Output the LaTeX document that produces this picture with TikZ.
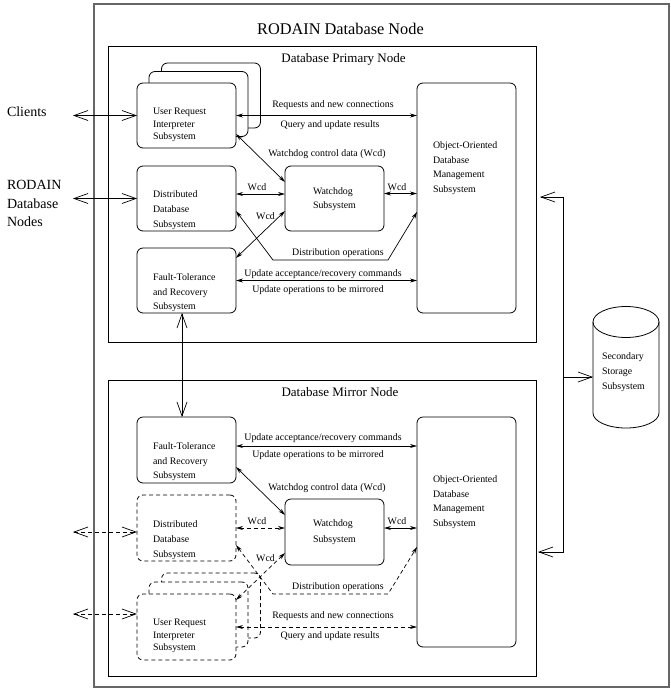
\documentclass[tikz,border=0pt]{standalone}
\usepackage{fontspec}
\setmainfont{Liberation Serif}
\usetikzlibrary{arrows.meta}
\begin{document}
\begin{tikzpicture}[x=1pt,y=-1pt,
  every node/.style={inner sep=0pt, outer sep=0pt},
  box/.style={draw, line width=0.8pt, rounded corners=6pt, fill=white, minimum width=99pt, minimum height=65pt},
  dbox/.style={box, dash pattern=on 4pt off 3pt},
  cont/.style={draw, line width=0.9pt, minimum width=428pt, minimum height=296pt},
  btext/.style={font=\fontsize{9.9}{#1}\selectfont, align=left, anchor=west},
  lab/.style={font=\fontsize{9.9}{12}\selectfont},
  side/.style={font=\fontsize{14}{18.5}\selectfont, align=left, anchor=west},
  ctitle/.style={font=\fontsize{13}{15}\selectfont},
  conn/.style={line width=0.7pt, {Stealth[length=7pt,width=4pt]}-{Stealth[length=7pt,width=4pt]}},
  dconn/.style={conn, dash pattern=on 4pt off 3pt},
  bigconn/.style={line width=0.7pt, {Straight Barb[length=14pt,width=10pt]}-{Straight Barb[length=14pt,width=10pt]}},
  dbigconn/.style={bigconn, dash pattern=on 4pt off 3pt},
  bigend/.style={line width=0.7pt, -{Straight Barb[length=14pt,width=10pt]}}
]
\useasboundingbox (0,0) rectangle (671,689);

% containers
\node[draw=black!60, line width=1.3pt, minimum width=575pt, minimum height=683pt] (outer) at (381.5,345.5) {};
\node[font=\fontsize{16.3}{19}\selectfont] (title) at (340.5,29) {RODAIN Database Node};
\node[cont] (prim) at (322,194) {};
\node[cont] (mirr) at (322,528) {};
\node[ctitle] (primt) at (343.5,59) {Database Primary Node};
\node[ctitle] (mirrt) at (340,392) {Database Mirror Node};

% primary node boxes
\node[box] (uris3) at (211,95.5) {};
\node[box] (uris2) at (198.5,104) {};
\node[box] (uris) at (186.5,115.5) {};
\node[btext=12.3] (turis) at (153,125) {User Request\\Interpreter\\Subsystem};
\node[box] (dds) at (186.5,198.5) {};
\node[btext=15.3] (tdds) at (153,210) {Distributed\\Database\\Subsystem};
\node[box] (ftrs) at (186.5,280.5) {};
\node[btext=14.5] (tftrs) at (153,293) {Fault-Tolerance\\and Recovery\\Subsystem};
\node[box] (wd) at (334.5,198.5) {};
\node[btext=14] (twd) at (313,199) {Watchdog\\Subsystem};
\node[box, minimum height=230pt] (odms) at (466.5,198) {};
\node[btext=14.7] (todms) at (433,168) {Object-Oriented\\Database\\Management\\Subsystem};

% mirror node boxes
\node[box, minimum height=66pt] (mftrs) at (186.5,450) {};
\node[btext=14.5] (tmftrs) at (153,462) {Fault-Tolerance\\and Recovery\\Subsystem};
\node[dbox, minimum height=66pt] (mdds) at (186.5,528) {};
\node[btext=15] (tmdds) at (153,540) {Distributed\\Database\\Subsystem};
\node[box, minimum height=66pt] (mwd) at (334.5,532) {};
\node[btext=16] (tmwd) at (313,532) {Watchdog\\Subsystem};
\node[box, minimum height=230pt] (modms) at (466.5,532) {};
\node[btext=14.7] (tmodms) at (433,502) {Object-Oriented\\Database\\Management\\Subsystem};
\node[dbox] (muris3) at (211,605.5) {};
\node[dbox] (muris2) at (198.5,614.5) {};
\node[dbox, minimum height=66pt] (muris) at (186.5,627) {};
\node[btext=12.5] (tmuris) at (153,636) {User Request\\Interpreter\\Subsystem};

% side labels
\node[side] (clients) at (7,112) {Clients};
\node[side] (rodain) at (7,203.5) {RODAIN\\Database\\Nodes};

% cylinder
\node[minimum width=66pt, minimum height=91pt] (cyl) at (626,367.5) {};
\draw[line width=0.8pt] (cyl.north west) -- (cyl.south west)
  arc[start angle=180, end angle=0, x radius=33, y radius=15] -- (cyl.north east);
\draw[line width=0.8pt] (cyl.north) ellipse[x radius=33, y radius=15.5];
\node[btext=15] (tcyl) at (602,372) {Secondary\\Storage\\Subsystem};

% external connectors (primary)
\coordinate (clL) at (73,115.5);
\coordinate (rdL) at (73,198.5);
\draw[bigconn] (clL) -- (uris.west);
\draw[bigconn] (rdL) -- (dds.west);

% primary connectors
\draw[conn] (uris.east) -- (uris.east -| odms.west);
\node[lab] (l1) at (333,105) {Requests and new connections};
\node[lab] (l2) at (330,125) {Query and update results};
\draw[conn] ([yshift=14]uris.south east) -- ([yshift=-16]wd.north west);
\node[lab] (l3) at (327,154) {Watchdog control data (Wcd)};
\draw[conn] ([yshift=4.5]dds.east) -- ([yshift=4.5]dds.east -| wd.west);
\node[lab] (l4) at (257,187) {Wcd};
\draw[conn] ([yshift=5]wd.east) -- ([yshift=5]wd.east -| odms.west);
\node[lab] (l5) at (397,187) {Wcd};
\draw[conn] ([yshift=20]wd.south west) -- ([yshift=-10]ftrs.north east);
\node[lab] (l6) at (265.5,216) {Wcd};
\draw[conn] ([yshift=20]dds.south east) -- ++(37,49) -- ++(115,0) -- ([yshift=-129]odms.north west);
\node[lab] (l7) at (338,253) {Distribution operations};
\draw[conn] (ftrs.east) -- (ftrs.east -| odms.west);
\node[lab] (l8) at (323,274) {Update acceptance/recovery commands};
\node[lab] (l9) at (318,290) {Update operations to be mirrored};

% primary <-> mirror
\draw[bigconn] ([xshift=-4.5]ftrs.south) -- ([xshift=-4.5]mftrs.north);

% storage bus
\coordinate (busTop) at (563,197);
\coordinate (busBot) at (563,552);
\coordinate (busMid) at (563,377);
\draw[bigconn] ([xshift=4]prim.east |- busTop) -- (busTop) -- (busBot) -- ([xshift=2]mirr.east |- busBot);
\draw[bigend] (busMid) -- (busMid -| cyl.west);

% mirror connectors
\draw[conn] ([yshift=4]mftrs.east) -- ([yshift=4]mftrs.east -| modms.west);
\node[lab] (m1) at (323,438) {Update acceptance/recovery commands};
\node[lab] (m2) at (318,455) {Update operations to be mirrored};
\draw[conn] ([yshift=16]mftrs.south east) -- ([yshift=-16]mwd.north west);
\node[lab] (m3) at (327,488) {Watchdog control data (Wcd)};
\draw[dconn] (mdds.east) -- (mdds.east -| mwd.west);
\node[lab] (m4) at (257,521) {Wcd};
\draw[conn] ([yshift=4]mwd.east) -- ([yshift=4]mwd.east -| modms.west);
\node[lab] (m5) at (397,521) {Wcd};
\draw[dconn] ([yshift=12]mwd.south west) -- ([yshift=-6]muris.north east);
\node[lab] (m6) at (265.5,558) {Wcd};
\draw[dconn] ([yshift=16]mdds.south east) -- ++(37,49) -- ++(115,0) -- ([yshift=-130]modms.north west);
\node[lab] (m7) at (338,587) {Distribution operations};
\draw[dconn] (muris.east) -- (muris.east -| modms.west);
\node[lab] (m8) at (333,616) {Requests and new connections};
\node[lab] (m9) at (330,636) {Query and update results};

% external connectors (mirror)
\coordinate (mdL) at (73,532);
\coordinate (muL) at (73,614);
\draw[dbigconn] (mdL) -- (mdL -| mdds.west);
\draw[dbigconn] (muL) -- (muL -| muris.west);
\end{tikzpicture}
\end{document}
